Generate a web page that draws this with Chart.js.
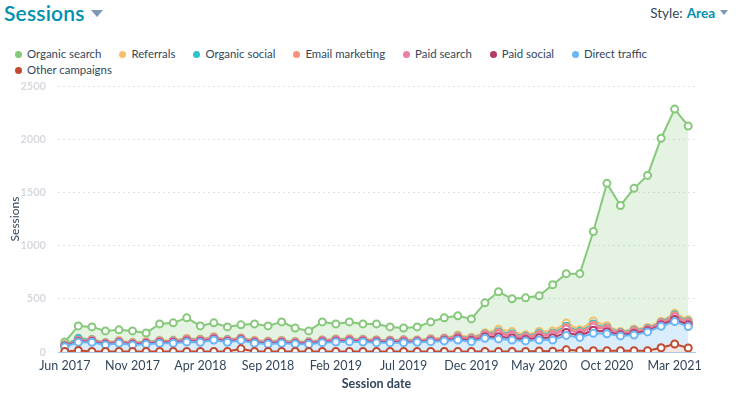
<!DOCTYPE html>
<html>
<head>
<meta charset="utf-8">
<title>Sessions</title>
<script src="https://cdn.jsdelivr.net/npm/chart.js@4.4.0/dist/chart.umd.min.js"></script>
<style>
  html, body { margin: 0; padding: 0; background: #fff; }
  body { font-family: Lato, "Open Sans", sans-serif; color: #33475b; }
  #wrap { position: relative; width: 740px; height: 397px; overflow: hidden; }
  .title { position: absolute; left: 4px; top: 0px; font-size: 21px; font-weight: 600; color: #0091ae; letter-spacing: 0.2px; }
  .caret { display: inline-block; width: 0; height: 0; border-left: 6px solid transparent; border-right: 6px solid transparent; border-top: 7px solid #7c98b6; vertical-align: middle; margin-left: 6px; position: relative; top: -2px; }
  .style { position: absolute; right: 12px; top: 5px; font-size: 13.5px; color: #33475b; }
  .style b { color: #0091ae; font-weight: 700; margin-left: 4px; }
  .style .caret { border-left-width: 4px; border-right-width: 4px; border-top-width: 5px; margin-left: 5px; }
  #legend { position: absolute; left: 15px; top: 46px; width: 690px; display: flex; flex-wrap: wrap; font-size: 11.4px; line-height: 16px; }
  .item { display: flex; align-items: center; margin-right: 18px; white-space: nowrap; }
  .dot { width: 7px; height: 7px; border-radius: 50%; margin-right: 5px; }
  #chartBox { position: absolute; left: 0; top: 66px; width: 740px; height: 331px; }
</style>
</head>
<body>
<div id="wrap">
  <div class="title">Sessions<span class="caret"></span></div>
  <div class="style">Style:<b>Area</b><span class="caret"></span></div>
  <div id="legend"></div>
  <div id="chartBox"><canvas id="sessionsChart"></canvas></div>
</div>
<script>
// --- data (monthly sessions, Jun 2017 - Apr 2021) ---
const months = [
  'Jun 2017', 'Jul 2017', 'Aug 2017', 'Sep 2017', 'Oct 2017', 'Nov 2017', 'Dec 2017',
  'Jan 2018', 'Feb 2018', 'Mar 2018', 'Apr 2018', 'May 2018', 'Jun 2018', 'Jul 2018',
  'Aug 2018', 'Sep 2018', 'Oct 2018', 'Nov 2018', 'Dec 2018', 'Jan 2019', 'Feb 2019',
  'Mar 2019', 'Apr 2019', 'May 2019', 'Jun 2019', 'Jul 2019', 'Aug 2019', 'Sep 2019',
  'Oct 2019', 'Nov 2019', 'Dec 2019', 'Jan 2020', 'Feb 2020', 'Mar 2020', 'Apr 2020',
  'May 2020', 'Jun 2020', 'Jul 2020', 'Aug 2020', 'Sep 2020', 'Oct 2020', 'Nov 2020',
  'Dec 2020', 'Jan 2021', 'Feb 2021', 'Mar 2021', 'Apr 2021'
];

const organicSearch = [24, 113, 116, 107, 101, 107, 81, 154, 162, 192, 123, 131, 116, 120, 154, 142, 173, 126, 100, 167, 140, 156, 142, 148, 123, 108, 122, 155, 186, 180, 173, 280, 352, 308, 348, 335, 434, 464, 527, 840, 1338, 1185, 1321, 1430, 1720, 1918, 1821];
const referrals = [5, 6, 6, 6, 6, 6, 6, 6, 7, 8, 6, 6, 6, 6, 6, 6, 6, 5, 5, 6, 6, 6, 6, 6, 5, 6, 5, 7, 7, 11, 9, 12, 24, 20, 13, 19, 21, 29, 17, 29, 18, 9, 13, 9, 11, 18, 15];
const organicSocial = [3, 18, 4, 3, 3, 3, 3, 3, 4, 4, 4, 4, 3, 3, 3, 3, 3, 3, 3, 3, 4, 4, 3, 3, 3, 4, 3, 4, 4, 5, 5, 6, 10, 9, 7, 9, 9, 12, 8, 12, 8, 5, 6, 5, 5, 9, 7];
const emailMarketing = [3, 3, 4, 3, 3, 3, 3, 4, 4, 5, 4, 4, 4, 4, 4, 4, 4, 4, 4, 4, 4, 4, 4, 4, 4, 4, 3, 4, 4, 6, 5, 7, 12, 10, 7, 10, 11, 15, 9, 15, 10, 6, 8, 6, 6, 10, 8];
const paidSearch = [5, 7, 8, 7, 7, 7, 7, 8, 8, 10, 9, 9, 8, 8, 8, 8, 8, 7, 7, 8, 9, 9, 8, 8, 7, 9, 6, 9, 9, 14, 12, 15, 25, 22, 16, 22, 24, 32, 20, 32, 21, 11, 16, 11, 13, 22, 17];
const paidSocial = [4, 6, 6, 6, 6, 6, 6, 7, 7, 8, 7, 7, 7, 7, 7, 7, 7, 6, 6, 7, 7, 7, 7, 7, 6, 7, 5, 7, 7, 11, 10, 13, 20, 18, 14, 20, 20, 28, 18, 28, 18, 10, 14, 10, 12, 20, 16];
const directTraffic = [45, 77, 87, 61, 77, 61, 68, 77, 77, 89, 87, 108, 87, 77, 77, 70, 77, 70, 68, 83, 89, 92, 89, 83, 83, 83, 87, 92, 99, 108, 92, 124, 118, 108, 99, 103, 105, 136, 125, 164, 160, 139, 148, 177, 202, 211, 201];
const otherCampaigns = [5, 15, 5, 5, 5, 5, 5, 5, 5, 5, 5, 5, 5, 30, 5, 5, 5, 5, 5, 5, 5, 5, 5, 5, 5, 5, 5, 5, 5, 5, 5, 5, 5, 5, 5, 10, 8, 20, 12, 12, 12, 12, 12, 12, 40, 75, 38];

const yTicks = [0, 500, 1000, 1500, 2000, 2500];

// legend order (as shown), stacking order is the reverse
const series = [
  { label: 'Organic search', data: organicSearch, color: '#86c97b', fill: 'rgba(134,201,123,0.22)' },
  { label: 'Referrals', data: referrals, color: '#f5c06a', fill: 'rgba(245,192,106,0.25)' },
  { label: 'Organic social', data: organicSocial, color: '#2fc2d3', fill: 'rgba(47,194,211,0.25)' },
  { label: 'Email marketing', data: emailMarketing, color: '#f8937a', fill: 'rgba(248,147,122,0.25)' },
  { label: 'Paid search', data: paidSearch, color: '#ea7fa3', fill: 'rgba(234,127,163,0.25)' },
  { label: 'Paid social', data: paidSocial, color: '#b33a63', fill: 'rgba(179,58,99,0.25)' },
  { label: 'Direct traffic', data: directTraffic, color: '#6cb6f5', fill: 'rgba(108,182,245,0.25)' },
  { label: 'Other campaigns', data: otherCampaigns, color: '#c24a2f', fill: 'rgba(194,74,47,0.15)' }
];

// --- custom legend ---
const legendEl = document.getElementById('legend');
series.forEach(s => {
  const item = document.createElement('div');
  item.className = 'item';
  item.innerHTML = '<span class="dot" style="background:' + s.color + '"></span>' + s.label;
  legendEl.appendChild(item);
});

// --- chart ---
const stacked = series.slice().reverse();
const datasets = stacked.map((s, i) => ({
  label: s.label,
  data: s.data,
  borderColor: s.color,
  backgroundColor: s.fill,
  fill: i === 0 ? 'origin' : '-1',
  borderWidth: 2,
  tension: 0,
  pointRadius: 3.5,
  pointBorderWidth: 2,
  pointBackgroundColor: '#fff',
  pointBorderColor: s.color
}));

const ctx = document.getElementById('sessionsChart').getContext('2d');
const sessionsChart = new Chart(ctx, {
  type: 'line',
  data: { labels: months, datasets: datasets },
  options: {
    responsive: true,
    maintainAspectRatio: false,
    animation: false,
    layout: { padding: { top: 20, right: 45, left: 8, bottom: 0 } },
    plugins: {
      legend: { display: false },
      tooltip: { enabled: false }
    },
    scales: {
      x: {
        offset: true,
        grid: { display: false, drawTicks: false },
        border: { display: true, color: '#a9c8ea', width: 1 },
        ticks: {
          autoSkip: false,
          maxRotation: 0,
          padding: 6,
          color: '#33475b',
          font: { family: 'Lato', size: 12.5 },
          callback: function (value, index) { return index % 5 === 0 ? this.getLabelForValue(value) : ''; }
        },
        title: {
          display: true,
          text: 'Session date',
          color: '#33475b',
          font: { family: 'Lato', size: 12.5, weight: 'bold' },
          padding: { top: 2, bottom: 6 }
        },
        afterFit: s => { s.height = 45; }
      },
      y: {
        stacked: true,
        min: 0,
        max: 2500,
        grid: { color: '#dde3ec', drawTicks: false },
        border: { display: false, dash: [2, 3] },
        afterBuildTicks: s => { s.ticks = yTicks.map(v => ({ value: v })); },
        ticks: {
          padding: 12,
          color: 'rgba(175,180,190,0.5)',
          font: { family: 'Lato', size: 11, weight: 'bold' },
          callback: v => String(v)
        },
        title: {
          display: true,
          text: 'Sessions',
          color: '#33475b',
          font: { family: 'Lato', size: 12 },
          padding: { top: 0, bottom: 0 }
        },
        afterFit: s => { s.width = 50; }
      }
    }
  }
});
</script>
</body>
</html>
